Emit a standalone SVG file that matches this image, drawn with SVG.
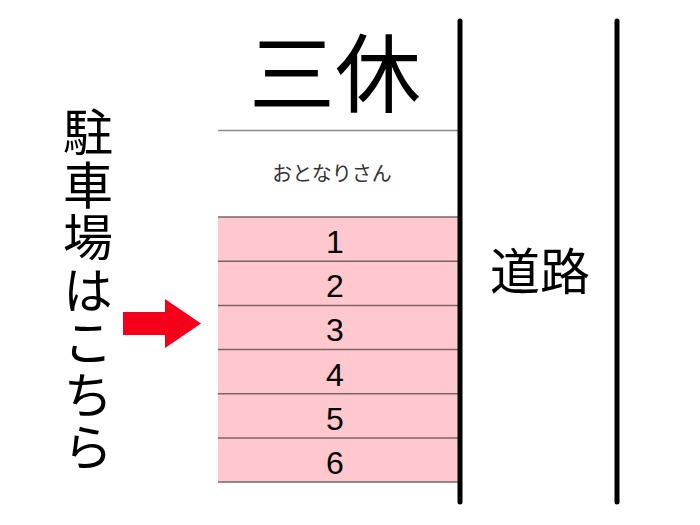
<svg xmlns="http://www.w3.org/2000/svg" width="700" height="525" viewBox="0 0 700 525">
<style>
text{font-family:"Noto Sans CJK JP","Liberation Sans",sans-serif;fill:#000;text-anchor:middle}
.row{fill:#FFC7CE}
.sep{stroke:#7a6464;stroke-width:1.5}
.num{font-family:"Liberation Sans",Arial,sans-serif;font-size:32px}
.road{stroke:#000;stroke-width:5;stroke-linecap:round}
</style>
<rect width="700" height="525" fill="#fff"/>
<g id="title"><text x="335" y="106" style="font-size:86px">三休</text></g>
<line x1="218" y1="130.5" x2="458" y2="130.5" stroke="#8a8a8a" stroke-width="1.5"/>
<g id="neighbor"><text x="332" y="181" style="font-size:20px;fill:#333">おとなりさん</text></g>
<g id="spaces">
<rect class="row" x="218" y="217" width="240" height="265"/>
<g id="space1"><line class="sep" x1="218" y1="217" x2="458" y2="217"/><text class="num" x="335" y="253">1</text></g>
<g id="space2"><line class="sep" x1="218" y1="261.2" x2="458" y2="261.2"/><text class="num" x="335" y="297">2</text></g>
<g id="space3"><line class="sep" x1="218" y1="305.4" x2="458" y2="305.4"/><text class="num" x="335" y="341">3</text></g>
<g id="space4"><line class="sep" x1="218" y1="349.6" x2="458" y2="349.6"/><text class="num" x="335" y="386">4</text></g>
<g id="space5"><line class="sep" x1="218" y1="393.8" x2="458" y2="393.8"/><text class="num" x="335" y="430">5</text></g>
<g id="space6"><line class="sep" x1="218" y1="438" x2="458" y2="438"/><text class="num" x="335" y="474">6</text><line class="sep" x1="218" y1="482" x2="458" y2="482"/></g>
</g>
<g id="road">
<line class="road" x1="460" y1="21" x2="460" y2="502"/>
<line class="road" x1="617" y1="21" x2="617" y2="502"/>
<text x="540" y="290" style="font-size:50px">道路</text>
</g>
<g id="parking-label">
<text x="88" y="107" style="font-size:50px;writing-mode:vertical-rl;text-anchor:start;letter-spacing:2.5px">駐車場はこちら</text>
</g>
<g id="connectors">
<polygon points="123,312 165,312 165,299 201,323.5 165,348 165,335 123,335" fill="#F5001A"/>
</g>
</svg>
